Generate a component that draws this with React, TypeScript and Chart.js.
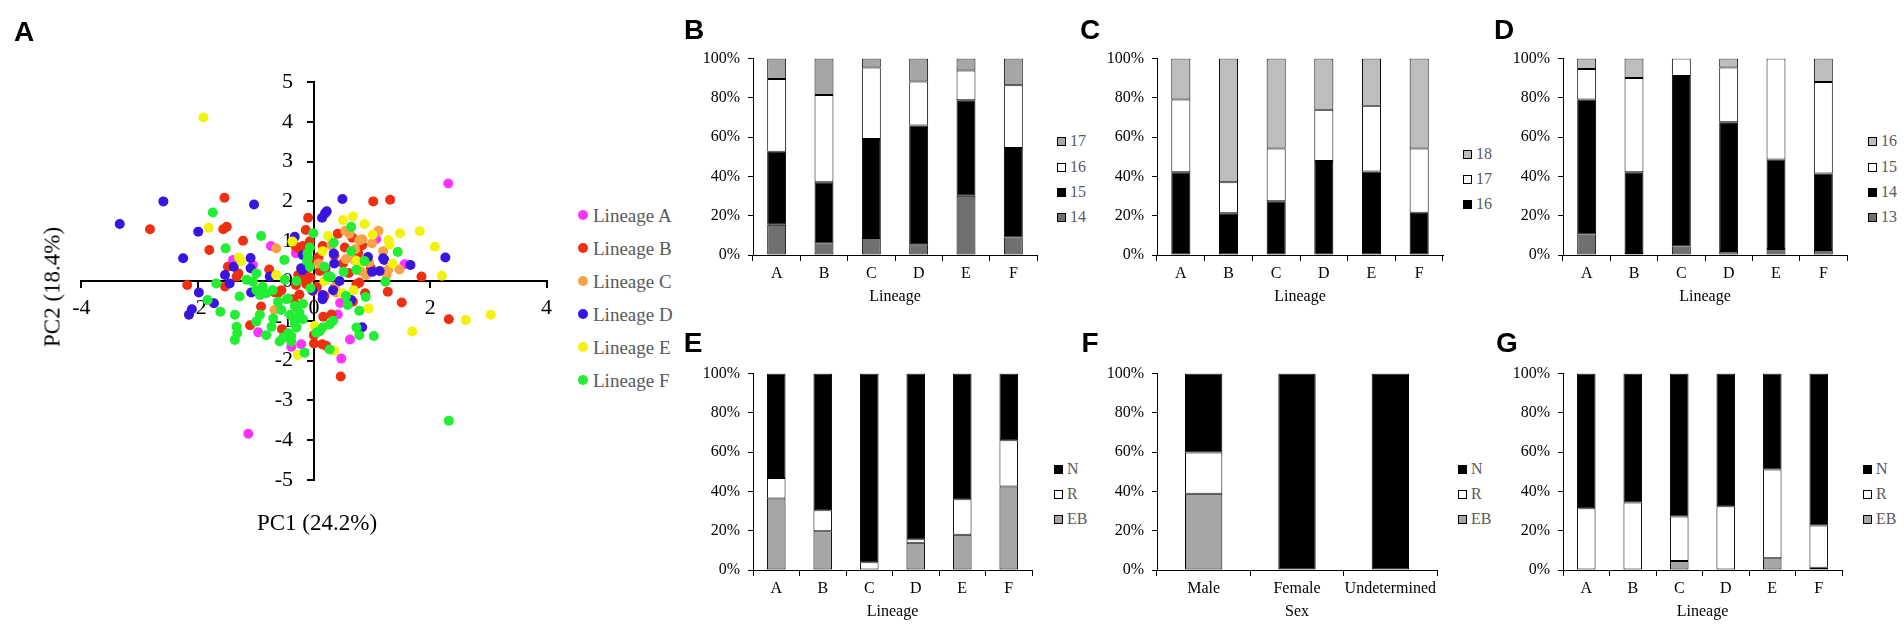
import React, { useEffect, useRef } from "react";
import { Chart, registerables } from "chart.js";
Chart.register(...registerables);

const SERIF = "'Liberation Serif', 'Times New Roman', serif";
const SANS = "'Liberation Sans', Arial, sans-serif";

// ---------- Panel A : PCA scatter ----------
const lineageNames = ["Lineage A", "Lineage B", "Lineage C", "Lineage D", "Lineage E", "Lineage F"];
const lineageColors = ["#ff33ff", "#ee3010", "#f8a245", "#3a14e0", "#f2f20c", "#22ee33"];

const lineageA: number[][] = [
  [2.31, 2.45], [-1.13, -3.84], [-0.74, 0.88], [1.56, 0.42], [1.07, 1.05], [0.62, -1.47], [0.47, -1.95],
  [0.41, -0.84], [-0.22, -1.59], [-0.96, -1.29], [-0.39, -1.65], [-1.39, 0.53], [-1.05, 0.4], [0.45, -0.55],
  [-0.31, 0.7], [-0.31, -0.65],
];
const lineageB: number[][] = [
  [-2.82, 1.3], [-1.54, 2.09], [-1.56, 1.3], [-1.5, 1.36], [-1.8, 0.78], [-2.18, -0.1], [-1.22, 1.01], [0.46, -2.4],
  [2.32, -0.96], [1.85, 0.11], [1.02, 2.0], [1.31, 2.04], [1.51, -0.54], [1.27, -0.27], [-0.1, 1.59], [-0.14, 1.28],
  [0.41, 1.19], [0.66, 1.09], [-0.07, 1.0], [-0.19, 0.88], [-0.25, 0.8], [0.15, 0.88], [0.53, 0.84], [0.78, 0.5],
  [-0.31, 0.86], [-1.48, 0.36], [-1.33, 0.11], [-1.3, 0.19], [-1.53, -0.14], [-0.77, 0.29], [-0.91, -0.64],
  [-1.1, -1.11], [-0.55, -1.21], [-0.56, -0.23], [-0.31, -0.6], [0.1, 0.25], [0.2, 0.32], [-0.06, 0.08],
  [-0.13, -0.08], [-0.02, -0.25], [-0.25, -0.34], [-0.36, -0.46], [0.18, -0.38], [0.73, -0.08], [0.78, -0.04],
  [0.3, -0.84], [0.14, -1.59], [0.21, -1.63], [-0.68, -0.28], [-0.31, -0.1], [0.83, 0.9], [0.5, 0.44], [0.98, 0.32],
  [0.88, -0.31], [0.67, -0.52], [0.16, -0.9], [0.0, -1.36], [0.0, -1.57], [-0.62, -0.31], [-0.27, 0.15],
  [-0.14, 0.15], [-0.07, 0.36], [0.76, 0.7], [-0.05, 0.45], [0.05, -0.15], [-0.18, 0.05], [0.08, 0.6], [0.6, 0.2],
  [0.35, 0.65],
];
const lineageC: number[][] = [
  [-0.65, 0.82], [0.54, 1.26], [0.61, 1.19], [0.78, 1.02], [0.83, 1.05], [1.11, 1.26], [0.71, 0.8], [0.95, 0.46],
  [1.19, 0.75], [1.47, 0.29], [0.38, -0.29], [0.08, 0.44], [0.36, -0.14], [-0.68, -0.73], [0.7, 0.53], [1.28, 0.29],
  [0.8, 0.25], [1.0, 0.95], [0.3, 0.9], [0.55, 0.55], [0.9, 0.15], [1.25, 0.15],
];
const lineageD: number[][] = [
  [-2.59, 2.0], [-3.34, 1.43], [-1.03, 1.92], [-1.99, 1.24], [-2.25, 0.57], [-1.98, -0.29], [-2.1, -0.71],
  [-2.15, -0.85], [-1.72, -0.56], [0.49, 2.06], [0.19, 1.7], [0.22, 1.75], [0.14, 1.59], [1.66, 0.4], [2.26, 0.59],
  [0.83, -1.16], [-0.33, 1.11], [-1.09, 0.58], [-1.09, 0.32], [-1.38, 0.36], [-1.53, 0.15], [-1.45, -0.06],
  [-1.08, -0.29], [0.34, 0.69], [0.35, 0.44], [0.93, 0.6], [1.21, 0.53], [1.13, 0.25], [1.0, 0.23], [0.44, 0.0],
  [0.33, -0.23], [0.15, -0.46], [-0.2, 0.27], [-0.76, 0.11], [-0.19, 0.65], [-0.22, 0.32], [0.27, 0.11],
  [0.15, -0.35], [-0.03, -0.23], [1.19, 0.57], [0.64, -0.48],
];
const lineageE: number[][] = [
  [-1.9, 4.11], [-1.81, 1.34], [-1.29, 0.59], [-1.25, 0.5], [-0.37, 0.99], [-0.65, 0.15], [2.2, 0.13], [2.08, 0.86],
  [1.82, 1.25], [1.48, 1.2], [0.87, 1.43], [0.67, 1.62], [0.5, 1.53], [0.24, 1.13], [1.01, 1.16], [1.3, 0.92],
  [0.15, 0.75], [0.73, 0.5], [0.8, 0.46], [1.35, 0.44], [1.69, -1.27], [2.61, -0.98], [3.04, -0.85], [0.01, -1.13],
  [0.94, -0.69], [0.68, -0.23], [0.18, 0.0], [0.35, -1.75], [-0.28, -1.86], [0.49, -0.31], [1.28, 1.03],
];
const lineageF: number[][] = [
  [-1.74, 1.72], [-0.91, 1.13], [-1.52, 0.82], [-1.68, -0.06], [-1.83, -0.48], [-1.61, -0.77], [-0.51, 0.53],
  [-0.99, 0.19], [-1.16, 0.03], [-1.05, -0.02], [-1.36, -0.85], [-1.28, -0.39], [-0.99, -0.23], [-0.88, -0.14],
  [-0.82, -0.31], [-0.93, -0.35], [-0.71, -0.23], [-0.93, -0.85], [-0.99, -1.02], [-1.33, -1.15], [-1.32, -1.31],
  [-1.36, -1.48], [-0.82, -1.36], [-0.7, -0.94], [-0.73, -1.15], [-0.59, -1.52], [-0.62, -0.52], [-0.56, -0.73],
  [-0.45, -0.44], [-0.41, -0.85], [-0.5, 0.03], [-0.44, -1.31], [-0.39, -1.52], [-0.33, -1.06], [-0.31, -0.94],
  [0.64, 1.36], [-0.01, 1.2], [1.44, 0.73], [-0.07, 0.84], [-0.1, 0.59], [-0.12, 0.5], [0.34, 0.96], [0.87, 0.5],
  [0.64, 0.75], [1.23, -0.02], [0.73, -1.17], [0.78, -1.36], [1.03, -1.38], [0.27, -1.72], [-0.16, -1.8],
  [0.1, -1.26], [0.04, -1.3], [0.15, -1.17], [0.33, -1.0], [0.27, -1.09], [0.78, -0.75], [0.89, -0.4], [0.55, -0.38],
  [0.58, -0.6], [0.51, 0.23], [0.29, 0.1], [-0.06, -0.18], [-0.3, 0.0], [-0.47, -0.46], [-0.33, -0.63],
  [-0.19, -0.57], [-0.25, -0.8], [-0.19, -0.96], [-0.33, -1.0], [-0.3, -1.17], [-0.39, -1.38], [-0.53, -1.42],
  [2.32, -3.51], [0.73, 0.28], [0.18, 0.36], [-0.11, 0.7], [-0.07, 0.36], [0.24, 0.11],
];
const lineagePoints = [lineageA, lineageB, lineageC, lineageD, lineageE, lineageF];

// ---------- Bar panels ----------
const lineageCats = ["A", "B", "C", "D", "E", "F"];
const sexCats = ["Male", "Female", "Undetermined"];

// B
const bSeries = ["14", "15", "16", "17"];
const b14 = [15.4, 5.8, 8.6, 5.5, 30.2, 8.9];
const b15 = [37.2, 31.2, 50.4, 60.5, 48.6, 45.6];
const b16 = [37.0, 44.5, 36.5, 22.4, 15.2, 31.9];
const b17 = [10.4, 18.5, 4.5, 11.6, 6.0, 13.6];
// C
const cSeries = ["16", "17", "18"];
const c16 = [42.1, 21.2, 27.4, 47.8, 42.5, 21.5];
const c17 = [37.1, 15.8, 26.8, 26.1, 33.5, 32.7];
const c18 = [20.8, 63.0, 45.8, 26.1, 24.0, 45.8];
// D
const dSeries = ["13", "14", "15", "16"];
const d13 = [10.4, 1.0, 4.3, 2.1, 3.0, 2.5];
const d14 = [68.8, 41.1, 86.9, 65.5, 45.6, 39.0];
const d15 = [15.5, 48.0, 8.8, 27.9, 51.4, 46.6];
const d16 = [5.3, 9.9, 0, 4.5, 0, 11.9];
// E / F / G
const statusSeries = ["EB", "R", "N"];
const eEB = [36.4, 19.7, 0, 13.9, 18.0, 42.5];
const eR = [10.5, 10.7, 4.0, 1.8, 18.0, 23.6];
const eN = [53.1, 69.6, 96.0, 84.3, 64.0, 33.9];
const fEB = [38.8, 0, 0];
const fR = [21.0, 0, 0];
const fN = [40.2, 100, 100];
const gEB = [0, 0, 4.6, 0, 6.0, 1.2];
const gR = [31.4, 34.4, 22.7, 32.4, 45.2, 21.4];
const gN = [68.6, 65.6, 72.7, 67.6, 48.8, 77.4];

const percentTicks = [0, 20, 40, 60, 80, 100];

const DARK = "#707070";
const MID = "#a6a6a6";
const LIGHT = "#bdbdbd";

type Geom = { L: number; T: number; R: number; B: number };
const YW = 60;
const XH = 56;
const PT = 12;
const PR = 14;

function BarPanel(props: {
  g: Geom;
  cats: string[];
  names: string[];
  colors: string[];
  values: number[][];
  xTitle: string;
}) {
  const ref = useRef<HTMLCanvasElement>(null);
  const { g, cats, names, colors, values, xTitle } = props;
  useEffect(() => {
    const font = { family: SERIF, size: 16 };
    const chart = new Chart(ref.current!, {
      type: "bar",
      data: {
        labels: cats,
        datasets: names.map((n, i) => ({
          label: n,
          data: values[i].map((v) => (v === 0 ? null : v)),
          backgroundColor: colors[i],
          borderColor: "#000",
          borderWidth: 1,
          borderSkipped: false,
          barPercentage: 0.4,
          categoryPercentage: 1,
        })),
      },
      options: {
        animation: false,
        responsive: false,
        maintainAspectRatio: false,
        layout: { padding: { top: PT, right: PR, left: 0, bottom: 0 } },
        plugins: { legend: { display: false }, tooltip: { enabled: false } },
        scales: {
          x: {
            stacked: true,
            offset: true,
            grid: { offset: true, drawOnChartArea: false, drawTicks: true, tickLength: 6, color: "#000", lineWidth: 1 },
            border: { display: true, color: "#000", width: 1 },
            ticks: { font, color: "#000", padding: 3, maxRotation: 0, autoSkip: false },
            title: { display: true, text: xTitle, font, color: "#000", padding: { top: 0, bottom: 5 } },
            afterFit: (s: any) => {
              s.height = XH;
            },
          },
          y: {
            stacked: true,
            min: 0,
            max: 100,
            afterBuildTicks: (s: any) => {
              s.ticks = percentTicks.map((v) => ({ value: v }));
            },
            ticks: { font, color: "#000", padding: 8, callback: (v: any) => v + "%" },
            grid: { drawOnChartArea: false, drawTicks: true, tickLength: 5, color: "#000", lineWidth: 1 },
            border: { display: true, color: "#000", width: 1 },
            afterFit: (s: any) => {
              s.width = YW;
            },
          },
        },
      },
    } as any);
    return () => chart.destroy();
  }, []);
  const left = g.L - YW;
  const top = g.T - PT;
  const width = g.R - g.L + YW + PR;
  const height = g.B - g.T + PT + XH;
  return (
    <canvas
      ref={ref}
      width={width}
      height={height}
      style={{ position: "absolute", left, top, width, height }}
    />
  );
}

function ScatterPanel() {
  const ref = useRef<HTMLCanvasElement>(null);
  useEffect(() => {
    const font = { family: SERIF, size: 22 };
    const chart = new Chart(ref.current!, {
      type: "scatter",
      data: {
        datasets: lineageNames.map((n, i) => ({
          label: n,
          data: lineagePoints[i].map(([x, y]) => ({ x, y })),
          backgroundColor: lineageColors[i],
          borderWidth: 0,
          pointRadius: 5,
          order: 5 - i,
        })),
      },
      options: {
        animation: false,
        responsive: false,
        maintainAspectRatio: false,
        layout: { padding: { left: 81.4, right: 12, top: 82, bottom: 145 } },
        plugins: { legend: { display: false }, tooltip: { enabled: false } },
        scales: {
          x: {
            type: "linear",
            min: -4,
            max: 4,
            position: { y: 0 },
            ticks: { stepSize: 2, font, color: "#000", padding: 8 },
            grid: { drawOnChartArea: false, drawTicks: true, tickLength: 6, color: "#000", lineWidth: 2 },
            border: { display: true, color: "#000", width: 2 },
          },
          y: {
            type: "linear",
            min: -5,
            max: 5,
            position: { x: 0 },
            // labels of an axis placed at x=0 are right-aligned on the axis; trailing spaces push them left
            ticks: { stepSize: 1, font, color: "#000", callback: (v: any) => String(v) + "   \u2009" },
            grid: { drawOnChartArea: false, drawTicks: true, tickLength: 6, color: "#000", lineWidth: 2 },
            border: { display: true, color: "#000", width: 2 },
          },
        },
      },
    } as any);
    return () => chart.destroy();
  }, []);
  return (
    <canvas ref={ref} width={560} height={625} style={{ position: "absolute", left: 0, top: 0, width: 560, height: 625 }} />
  );
}

function Letter(props: { t: string; x: number; y: number }) {
  return (
    <div
      style={{
        position: "absolute",
        left: props.x,
        top: props.y,
        transform: "translate(-50%, -50%)",
        fontFamily: SANS,
        fontWeight: "bold",
        fontSize: 28,
        lineHeight: 1,
        color: "#000",
      }}
    >
      {props.t}
    </div>
  );
}

function Text(props: { t: string; x: number; y: number; size: number; color?: string; rotate?: boolean; center?: boolean }) {
  return (
    <div
      style={{
        position: "absolute",
        left: props.x,
        top: props.y,
        transform: props.rotate
          ? "translate(-50%, -50%) rotate(-90deg)"
          : props.center
          ? "translate(-50%, -50%)"
          : "translateY(-50%)",
        fontFamily: SERIF,
        fontSize: props.size,
        lineHeight: 1,
        whiteSpace: "nowrap",
        color: props.color || "#000",
      }}
    >
      {props.t}
    </div>
  );
}

function BoxLegend(props: { names: string[]; colors: string[]; sx: number; tx: number; ys: number[] }) {
  const items = props.names.map((n, i) => ({ n, c: props.colors[i] })).reverse();
  return (
    <>
      {items.map((it, i) => (
        <React.Fragment key={it.n}>
          <div
            style={{
              position: "absolute",
              left: props.sx,
              top: props.ys[i] - 4.5,
              width: 7,
              height: 7,
              background: it.c,
              border: "1px solid #000",
            }}
          />
          <Text t={it.n} x={props.tx} y={props.ys[i]} size={16} color="#595959" />
        </React.Fragment>
      ))}
    </>
  );
}

const legendAY = [215, 248, 281, 314, 347, 380];

export default function App() {
  const top4 = [141, 167, 192, 217];
  const bot3 = [469, 494, 519];
  return (
    <div
      style={{
        position: "fixed",
        left: 0,
        top: 0,
        width: 1904,
        height: 625,
        background: "#fff",
        overflow: "hidden",
      }}
    >
      <ScatterPanel />
      <Text t="PC2 (18.4%)" x={52} y={287} size={23} rotate />
      <Text t="PC1 (24.2%)" x={317} y={522} size={23} center />
      {lineageNames.map((n, i) => (
        <React.Fragment key={n}>
          <div
            style={{
              position: "absolute",
              left: 578,
              top: legendAY[i] - 5,
              width: 10,
              height: 10,
              borderRadius: 5,
              background: lineageColors[i],
            }}
          />
          <Text t={n} x={593} y={legendAY[i]} size={19} color="#595959" />
        </React.Fragment>
      ))}

      <BarPanel
        g={{ L: 753, T: 53, R: 1037, B: 255 }}
        cats={lineageCats}
        names={bSeries}
        colors={[DARK, "#000", "#fff", MID]}
        values={[b14, b15, b16, b17]}
        xTitle="Lineage"
      />
      <BoxLegend names={bSeries} colors={[DARK, "#000", "#fff", MID]} sx={1057} tx={1070} ys={top4} />

      <BarPanel
        g={{ L: 1157, T: 53, R: 1443, B: 255 }}
        cats={lineageCats}
        names={cSeries}
        colors={["#000", "#fff", LIGHT]}
        values={[c16, c17, c18]}
        xTitle="Lineage"
      />
      <BoxLegend names={cSeries} colors={["#000", "#fff", LIGHT]} sx={1463} tx={1476} ys={[154, 179, 204]} />

      <BarPanel
        g={{ L: 1563, T: 53, R: 1847, B: 255 }}
        cats={lineageCats}
        names={dSeries}
        colors={[DARK, "#000", "#fff", LIGHT]}
        values={[d13, d14, d15, d16]}
        xTitle="Lineage"
      />
      <BoxLegend names={dSeries} colors={[DARK, "#000", "#fff", LIGHT]} sx={1868} tx={1881} ys={top4} />

      <BarPanel
        g={{ L: 753, T: 368, R: 1032, B: 570 }}
        cats={lineageCats}
        names={statusSeries}
        colors={[MID, "#fff", "#000"]}
        values={[eEB, eR, eN]}
        xTitle="Lineage"
      />
      <BoxLegend names={statusSeries} colors={[MID, "#fff", "#000"]} sx={1054} tx={1067} ys={bot3} />

      <BarPanel
        g={{ L: 1157, T: 368, R: 1437, B: 570 }}
        cats={sexCats}
        names={statusSeries}
        colors={[MID, "#fff", "#000"]}
        values={[fEB, fR, fN]}
        xTitle="Sex"
      />
      <BoxLegend names={statusSeries} colors={[MID, "#fff", "#000"]} sx={1458} tx={1471} ys={bot3} />

      <BarPanel
        g={{ L: 1563, T: 368, R: 1842, B: 570 }}
        cats={lineageCats}
        names={statusSeries}
        colors={[MID, "#fff", "#000"]}
        values={[gEB, gR, gN]}
        xTitle="Lineage"
      />
      <BoxLegend names={statusSeries} colors={[MID, "#fff", "#000"]} sx={1863} tx={1876} ys={bot3} />

      <Letter t="A" x={24} y={32} />
      <Letter t="B" x={694} y={30} />
      <Letter t="C" x={1090} y={30} />
      <Letter t="D" x={1504} y={30} />
      <Letter t="E" x={693} y={343} />
      <Letter t="F" x={1090} y={343} />
      <Letter t="G" x={1507} y={343} />
    </div>
  );
}
